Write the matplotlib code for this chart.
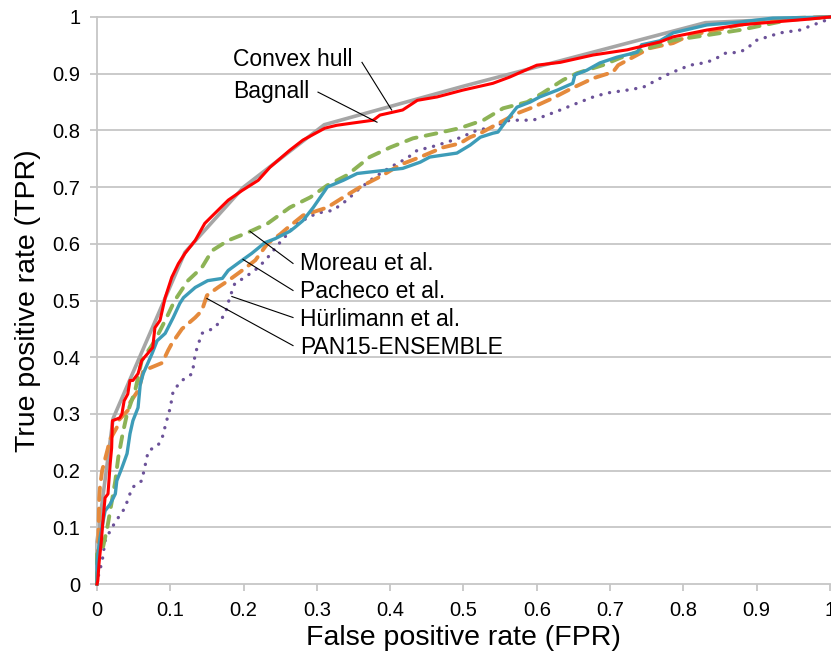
import numpy as np
import matplotlib
matplotlib.use("Agg")
import matplotlib.pyplot as plt

plt.rcParams['font.family'] = ['Liberation Sans', 'DejaVu Sans']

# ROC curves: (FPR, TPR)
hull_fpr = [0, 0, 0.022, 0.12, 0.2, 0.31, 0.5, 0.83, 1.0]
hull_tpr = [0, 0.075, 0.292, 0.585, 0.70, 0.81, 0.878, 0.99, 1.0]

bagnall_fpr = [0, 0.001, 0.003, 0.006, 0.008, 0.011, 0.015, 0.018, 0.020, 0.021, 0.031, 0.034, 0.037,
               0.042, 0.045, 0.049, 0.056, 0.061, 0.076, 0.079, 0.086, 0.093, 0.102, 0.111, 0.12,
               0.134, 0.147, 0.161, 0.179, 0.198, 0.22, 0.236, 0.263, 0.281, 0.311, 0.327, 0.349,
               0.377, 0.386, 0.417, 0.437, 0.464, 0.499, 0.54, 0.563, 0.6, 0.632, 0.677, 0.723,
               0.768, 0.786, 0.832, 0.877, 0.922, 0.969, 1.0]
bagnall_tpr = [0, 0.005, 0.04, 0.076, 0.11, 0.152, 0.159, 0.212, 0.24, 0.288, 0.293, 0.30, 0.323,
               0.335, 0.359, 0.359, 0.371, 0.394, 0.417, 0.452, 0.465, 0.505, 0.541, 0.565, 0.583,
               0.606, 0.636, 0.654, 0.677, 0.694, 0.712, 0.735, 0.765, 0.783, 0.804, 0.809, 0.813,
               0.818, 0.827, 0.836, 0.853, 0.859, 0.871, 0.883, 0.894, 0.915, 0.92, 0.933, 0.942,
               0.956, 0.965, 0.977, 0.986, 0.991, 0.996, 1.0]

pacheco_fpr = [0, 0.0, 0.004, 0.011, 0.018, 0.025, 0.027, 0.034, 0.041, 0.045, 0.049, 0.056, 0.059,
               0.063, 0.075, 0.082, 0.093, 0.104, 0.113, 0.118, 0.134, 0.151, 0.171, 0.179, 0.198,
               0.211, 0.229, 0.243, 0.263, 0.27, 0.281, 0.295, 0.311, 0.314, 0.336, 0.355, 0.368,
               0.417, 0.441, 0.454, 0.491, 0.509, 0.523, 0.54, 0.547, 0.559, 0.573, 0.591, 0.604,
               0.628, 0.649, 0.652, 0.668, 0.686, 0.709, 0.737, 0.743, 0.768, 0.786, 0.832, 0.877,
               0.922, 1.0]
pacheco_tpr = [0, 0.04, 0.081, 0.129, 0.141, 0.159, 0.182, 0.205, 0.23, 0.265, 0.288, 0.311, 0.352,
               0.371, 0.406, 0.429, 0.442, 0.47, 0.495, 0.505, 0.523, 0.535, 0.539, 0.553, 0.571,
               0.583, 0.602, 0.609, 0.622, 0.629, 0.641, 0.664, 0.694, 0.70, 0.712, 0.724, 0.726,
               0.733, 0.744, 0.753, 0.76, 0.774, 0.788, 0.795, 0.797, 0.818, 0.841, 0.85, 0.859,
               0.871, 0.883, 0.898, 0.906, 0.919, 0.929, 0.938, 0.951, 0.958, 0.972, 0.986, 0.991,
               0.998, 1.0]

moreau_fpr = [0, 0.0, 0.007, 0.014, 0.025, 0.029, 0.035, 0.041, 0.052, 0.061, 0.079, 0.095, 0.106,
              0.124, 0.143, 0.157, 0.179, 0.206, 0.233, 0.263, 0.291, 0.314, 0.341, 0.372, 0.4,
              0.431, 0.464, 0.495, 0.527, 0.554, 0.587, 0.608, 0.636, 0.655, 0.69, 0.714, 0.745,
              0.786, 0.832, 0.877, 0.922, 0.945, 1.0]
moreau_tpr = [0, 0.053, 0.058, 0.099, 0.182, 0.223, 0.265, 0.30, 0.341, 0.394, 0.429, 0.47, 0.50,
              0.535, 0.558, 0.588, 0.606, 0.62, 0.636, 0.664, 0.682, 0.703, 0.721, 0.753, 0.77,
              0.786, 0.795, 0.804, 0.818, 0.839, 0.85, 0.866, 0.889, 0.901, 0.915, 0.928, 0.942,
              0.959, 0.968, 0.977, 0.989, 0.995, 1.0]

hurlimann_fpr = [0, 0.001, 0.007, 0.011, 0.02, 0.029, 0.038, 0.048, 0.061, 0.065, 0.07, 0.083, 0.089,
                 0.095, 0.1, 0.104, 0.116, 0.13, 0.134, 0.143, 0.161, 0.175, 0.181, 0.188, 0.202,
                 0.22, 0.233, 0.25, 0.273, 0.3, 0.322, 0.341, 0.355, 0.377, 0.4, 0.423, 0.437,
                 0.454, 0.477, 0.495, 0.518, 0.54, 0.563, 0.595, 0.614, 0.632, 0.655, 0.677, 0.696,
                 0.723, 0.745, 0.764, 0.782, 0.809, 0.832, 0.846, 0.857, 0.877, 0.887, 0.9, 0.932,
                 0.959, 0.977, 0.996, 1.0]
hurlimann_tpr = [0, 0.01, 0.04, 0.076, 0.099, 0.117, 0.134, 0.17, 0.182, 0.205, 0.235, 0.244, 0.258,
                 0.288, 0.311, 0.341, 0.359, 0.371, 0.406, 0.442, 0.452, 0.477, 0.505, 0.53, 0.541,
                 0.558, 0.576, 0.603, 0.636, 0.654, 0.659, 0.677, 0.694, 0.716, 0.735, 0.751, 0.765,
                 0.77, 0.779, 0.787, 0.80, 0.806, 0.818, 0.818, 0.827, 0.836, 0.848, 0.859, 0.866,
                 0.871, 0.876, 0.889, 0.901, 0.915, 0.92, 0.928, 0.936, 0.938, 0.945, 0.959, 0.972,
                 0.977, 0.986, 0.995, 1.0]

pan15_fpr = [0, 0.0, 0.002, 0.003, 0.004, 0.007, 0.015, 0.017, 0.027, 0.029, 0.042, 0.044, 0.056,
             0.059, 0.063, 0.089, 0.097, 0.102, 0.116, 0.134, 0.143, 0.15, 0.165, 0.179, 0.198,
             0.216, 0.233, 0.25, 0.259, 0.281, 0.314, 0.341, 0.363, 0.39, 0.413, 0.441, 0.472,
             0.495, 0.509, 0.523, 0.55, 0.573, 0.595, 0.622, 0.649, 0.677, 0.704, 0.711, 0.731,
             0.754, 0.786, 0.809, 0.846, 0.877, 0.9, 0.945, 1.0]
pan15_tpr = [0, 0.0, 0.094, 0.152, 0.17, 0.2, 0.24, 0.253, 0.276, 0.288, 0.306, 0.318, 0.341,
             0.353, 0.376, 0.39, 0.412, 0.424, 0.45, 0.47, 0.482, 0.509, 0.523, 0.535, 0.553,
             0.571, 0.601, 0.617, 0.627, 0.65, 0.664, 0.686, 0.703, 0.721, 0.739, 0.753, 0.77,
             0.777, 0.788, 0.795, 0.814, 0.83, 0.841, 0.857, 0.875, 0.892, 0.903, 0.915, 0.929,
             0.945, 0.954, 0.968, 0.977, 0.986, 0.991, 0.998, 1.0]

# annotation labels: text, text anchor, arrow tip
labels = ['Convex hull', 'Bagnall', 'Moreau et al.', 'Pacheco et al.', 'Hürlimann et al.', 'PAN15-ENSEMBLE']
label_xy = [(0.186, 0.925), (0.186, 0.868), (0.277, 0.566), (0.277, 0.516), (0.277, 0.466), (0.277, 0.417)]
tip_xy = [(0.402, 0.836), (0.382, 0.8145), (0.2087, 0.6219), (0.1992, 0.5724), (0.184, 0.507), (0.150, 0.5035)]
line_start = [(0.3615, 0.920), (0.3015, 0.8675), (0.2674, 0.5654), (0.2674, 0.5177), (0.2674, 0.47), (0.2674, 0.4205)]

fig = plt.figure(figsize=(8.31, 6.64), dpi=100)
ax = fig.add_axes([97 / 831, 1 - 584 / 664, 733 / 831, 567 / 664])

grid_c = '#c6c6c6'
for t in np.arange(0.1, 1.01, 0.1):
    ax.axhline(t, color=grid_c, lw=1.3, zorder=0, clip_on=False)

ax.plot(hull_fpr, hull_tpr, color='#a6a6a6', lw=2.6, zorder=2, clip_on=False)
ax.plot(hurlimann_fpr, hurlimann_tpr, color='#6c5299', lw=2.4, ls=(0, (0.05, 2.6)),
        dash_capstyle='round', zorder=3, clip_on=False)
ax.plot(pan15_fpr, pan15_tpr, color='#e58a3c', lw=2.8, ls=(0, (3.2, 2.2)),
        dash_capstyle='round', zorder=4, clip_on=False)
ax.plot(moreau_fpr, moreau_tpr, color='#8db356', lw=2.8, ls=(0, (2.8, 2.4)),
        dash_capstyle='round', zorder=4, clip_on=False)
ax.plot(pacheco_fpr, pacheco_tpr, color='#3d9cb8', lw=2.4, zorder=5, clip_on=False)
ax.plot(bagnall_fpr, bagnall_tpr, color='#ff0000', lw=2.2, zorder=6, clip_on=False)

for i in range(len(labels)):
    ax.plot([line_start[i][0], tip_xy[i][0]], [line_start[i][1], tip_xy[i][1]],
            color='black', lw=0.8, zorder=7)
    ax.text(label_xy[i][0], label_xy[i][1], labels[i], fontsize=16.5, ha='left', va='center')

ax.set_xlim(0, 1)
ax.set_ylim(0, 1)
ax.set_xticks(np.arange(0, 1.01, 0.1))
ax.set_yticks(np.arange(0, 1.01, 0.1))
ax.set_xticklabels(['0', '0.1', '0.2', '0.3', '0.4', '0.5', '0.6', '0.7', '0.8', '0.9', '1'])
ax.set_yticklabels(['0', '0.1', '0.2', '0.3', '0.4', '0.5', '0.6', '0.7', '0.8', '0.9', '1'])
ax.tick_params(axis='both', labelsize=14.5, color=grid_c, length=5, width=1.3, pad=7)

for side in ['top', 'right']:
    ax.spines[side].set_visible(False)
for side in ['left', 'bottom']:
    ax.spines[side].set_color(grid_c)
    ax.spines[side].set_linewidth(1.3)

ax.set_xlabel('False positive rate (FPR)', fontsize=20.5, labelpad=4)
ax.set_ylabel('True positive rate (TPR)', fontsize=20.5, labelpad=8)

fig.savefig('out.png', dpi=100)
